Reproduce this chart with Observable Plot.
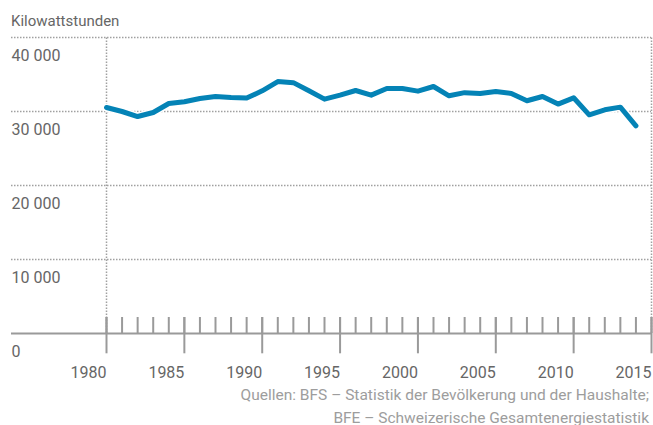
<!DOCTYPE html>
<html><head><meta charset="utf-8">
<script src="https://cdn.jsdelivr.net/npm/d3@7"></script>
<script src="https://cdn.jsdelivr.net/npm/@observablehq/plot@0.6"></script>
<style>
body{margin:0;background:#fff;}
#wrap{position:relative;width:653px;height:425px;overflow:hidden;font-family:Roboto, sans-serif;background:#fff;}
#wrap svg{position:absolute;left:0;top:0;}
.title{position:absolute;left:11px;top:12px;font-size:15px;line-height:18px;color:#666;white-space:nowrap;}
.source{position:absolute;right:4px;top:384px;font-size:15.5px;line-height:22.5px;color:#9d9d9d;text-align:right;white-space:nowrap;}
</style></head>
<body>
<div id="wrap">
  <div id="chart"></div>
  <div class="title">Kilowattstunden</div>
  <div class="source">Quellen: BFS – Statistik der Bevölkerung und der Haushalte;<br>BFE – Schweizerische Gesamtenergiestatistik</div>
</div>
<script>
const years = [1980,1981,1982,1983,1984,1985,1986,1987,1988,1989,1990,1991,1992,1993,1994,1995,1996,1997,1998,1999,2000,2001,2002,2003,2004,2005,2006,2007,2008,2009,2010,2011,2012,2013,2014];
const values = [30540,30000,29320,29860,31080,31310,31760,32030,31890,31810,32800,34050,33900,32800,31670,32210,32840,32210,33110,33110,32750,33380,32120,32550,32430,32700,32430,31450,32030,31000,31850,29550,30230,30590,28070];
const yTicks = [0,10000,20000,30000,40000];
const yTickLabels = ["0","10 000","20 000","30 000","40 000"];
const xMajorTicks = [1980,1985,1990,1995,2000,2005,2010,2015];
const xTickLabels = ["1980","1985","1990","1995","2000","2005","2010","2015"];
const xMinorTicks = [1980,1981,1982,1983,1984,1985,1986,1987,1988,1989,1990,1991,1992,1993,1994,1995,1996,1997,1998,1999,2000,2001,2002,2003,2004,2005,2006,2007,2008,2009,2010,2011,2012,2013,2014,2015];

const data = years.map((year, i) => ({year, value: values[i]}));
const xEnds = [xMajorTicks[0], xMajorTicks[xMajorTicks.length - 1]];
const yMax = yTicks[yTicks.length - 1];
const grey = "#9a9a9a";
const dotted = {stroke: "#a0a0a0", strokeWidth: 1.5, strokeDasharray: "1.5,1.5"};

const chart = Plot.plot({
  width: 653,
  height: 425,
  marginLeft: 106,
  marginRight: 2,
  marginTop: 37,
  marginBottom: 92,
  x: {domain: xEnds, axis: null},
  y: {domain: [0, yMax], axis: null},
  style: {fontFamily: "Roboto, sans-serif", background: "transparent", overflow: "visible"},
  marks: [
    Plot.ruleY(yTicks.slice(1), {y: d => d, ...dotted, insetLeft: -95}),
    Plot.ruleX(xEnds, {x: d => d, y1: () => 0, y2: () => yMax, ...dotted}),
    Plot.text(yTicks, {y: d => d, text: (d, i) => yTickLabels[i], frameAnchor: "left", textAnchor: "start", lineAnchor: "top", dx: -95, dy: 12.5, fontSize: 16, fill: "#666"}),
    Plot.line(data, {x: "year", y: "value", stroke: "white", strokeWidth: 8, strokeLinejoin: "round"}),
    Plot.line(data, {x: "year", y: "value", stroke: "#0483b6", strokeWidth: 5, strokeLinejoin: "round"}),
    Plot.ruleY([0], {y: d => d, stroke: grey, strokeWidth: 2, insetLeft: -95}),
    Plot.ruleX(xMinorTicks, {x: d => d, y1: () => 0, y2: () => 0, insetTop: -16, stroke: grey, strokeWidth: 2}),
    Plot.ruleX(xMajorTicks, {x: d => d, y1: () => 0, y2: () => 0, insetTop: -16, insetBottom: -20.3, stroke: grey, strokeWidth: 2}),
    Plot.text(xMajorTicks, {x: d => d, text: (d, i) => xTickLabels[i], frameAnchor: "bottom", textAnchor: "end", lineAnchor: "top", dy: 33, fontSize: 16, fill: "#666"})
  ]
});
document.getElementById("chart").appendChild(chart);
</script>
</body></html>
